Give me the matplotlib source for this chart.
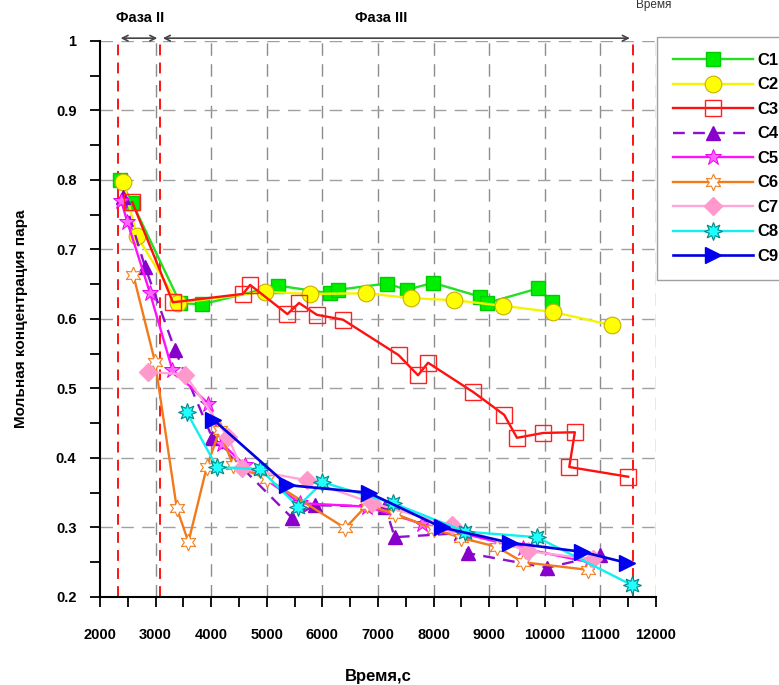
import matplotlib
matplotlib.use('Agg')
import matplotlib.pyplot as plt
from matplotlib.ticker import MultipleLocator, FormatStrFormatter

plt.rcParams['font.family'] = ['Liberation Sans', 'DejaVu Sans']

#Series (time in s, molar vapour concentration)
c1_t = [2360, 2580, 3440, 3835, 5200, 6130, 6280, 7160, 7520, 7990, 8840, 8960, 9880, 10130]
c1_y = [0.800, 0.767, 0.623, 0.621, 0.648, 0.637, 0.642, 0.651, 0.642, 0.652, 0.632, 0.623, 0.644, 0.624]

c2_t = [2420, 2660, 3400, 4970, 5780, 6790, 7590, 8370, 9250, 10150, 11210]
c2_y = [0.797, 0.720, 0.623, 0.639, 0.636, 0.637, 0.630, 0.627, 0.619, 0.610, 0.591]

c3_t = [2580, 3310, 4570, 4700, 5370, 5580, 5900, 6370, 7370, 7720, 7900, 8710, 9270, 9500, 9970, 10540, 10440, 11500]
c3_y = [0.768, 0.624, 0.636, 0.649, 0.607, 0.623, 0.606, 0.599, 0.548, 0.519, 0.537, 0.495, 0.462, 0.429, 0.436, 0.437, 0.387, 0.373]

c4_t = [2420, 2810, 3350, 4020, 5450, 5870, 7130, 7300, 8500, 8620, 10040, 11000]
c4_y = [0.776, 0.675, 0.555, 0.429, 0.314, 0.332, 0.330, 0.286, 0.292, 0.263, 0.242, 0.260]

c5_t = [2380, 2490, 2900, 3300, 3950, 4200, 4600, 5600, 6800, 7800, 8600, 9600, 10800]
c5_y = [0.770, 0.740, 0.637, 0.527, 0.478, 0.420, 0.390, 0.335, 0.330, 0.305, 0.290, 0.270, 0.250]

c6_t = [2600, 2990, 3380, 3590, 3920, 4150, 4390, 5000, 6410, 6800, 7300, 8000, 8500, 9140, 9610, 10780]
c6_y = [0.663, 0.538, 0.328, 0.279, 0.387, 0.440, 0.390, 0.370, 0.299, 0.332, 0.320, 0.298, 0.285, 0.272, 0.250, 0.239]

c7_t = [2870, 3530, 4300, 4550, 5720, 6900, 8330, 9700, 10870]
c7_y = [0.524, 0.520, 0.430, 0.385, 0.368, 0.335, 0.303, 0.266, 0.254]

c8_t = [3560, 4100, 4880, 5560, 6000, 7270, 8570, 9860, 11570]
c8_y = [0.466, 0.387, 0.384, 0.330, 0.365, 0.335, 0.294, 0.286, 0.217]

c9_t = [4040, 5370, 6830, 8150, 9380, 10670, 11480]
c9_y = [0.455, 0.361, 0.350, 0.300, 0.278, 0.265, 0.249]

phase_lines = [2000, 2320, 3080, 11580]
x_ticks = [2000, 3000, 4000, 5000, 6000, 7000, 8000, 9000, 10000, 11000, 12000]

fig = plt.figure(figsize=(7.79, 6.85), dpi=100)
ax = fig.add_axes([0.1284, 0.1285, 0.7137, 0.8117])

#grid first so series sit on top
for xv in x_ticks[1:]:
    ax.axvline(xv, color='#8c8c8c', lw=1.0, dashes=(9, 6), zorder=0)
for yv in [0.3, 0.4, 0.5, 0.6, 0.7, 0.8, 0.9, 1.0]:
    ax.axhline(yv, color='#a0a0a0', lw=1.0, dashes=(9, 6), zorder=0)
for xv in phase_lines:
    ax.axvline(xv, color='#ff0000', lw=1.3, dashes=(6, 4), zorder=1)

ax.plot(c1_t, c1_y, color='#22e022', lw=1.7, marker='s', ms=10,
        mfc='#00ee00', mec='#00cc00', label='C1', zorder=3)
ax.plot(c2_t, c2_y, color='#f4f400', lw=1.7, marker='o', ms=12,
        mfc='#ffff00', mec='#c8b000', mew=0.8, label='C2', zorder=3)
ax.plot(c3_t, c3_y, color='#ff1010', lw=1.7, marker='s', ms=12,
        mfc='none', mec='#ff2020', mew=1.0, label='C3', zorder=4)
ax.plot(c4_t, c4_y, color='#9010d0', lw=1.7, dashes=(5, 3.5), marker='^', ms=10,
        mfc='#8800cc', mec='#8800cc', label='C4', zorder=3)
ax.plot(c5_t, c5_y, color='#ff10ff', lw=1.7, marker='*', ms=12,
        mfc='#ff66ff', mec='#ee00ee', mew=0.7, label='C5', zorder=3)
ax.plot(c6_t, c6_y, color='#f27a1a', lw=1.7, marker=(6, 1, 0), ms=12,
        mfc='white', mec='#f08020', mew=0.8, label='C6', zorder=3)
ax.plot(c7_t, c7_y, color='#ffa6d6', lw=1.7, marker='D', ms=9,
        mfc='#ff99cc', mec='#ff99cc', label='C7', zorder=3)
ax.plot(c8_t, c8_y, color='#10f0f0', lw=1.7, marker=(8, 1, 0), ms=13,
        mfc='#20ffff', mec='#008888', mew=0.8, label='C8', zorder=3)
ax.plot(c9_t, c9_y, color='#0000e0', lw=1.9, marker='>', ms=11,
        mfc='#0000ee', mec='#0000ee', label='C9', zorder=3)

ax.set_xlim(2000, 12000)
ax.set_ylim(0.2, 1.0)
ax.set_xticks(x_ticks)
ax.xaxis.set_minor_locator(MultipleLocator(500))
ax.yaxis.set_major_locator(MultipleLocator(0.1))
ax.yaxis.set_minor_locator(MultipleLocator(0.05))
ax.yaxis.set_major_formatter(FormatStrFormatter('%g'))
ax.tick_params(which='both', direction='out', length=7, width=1.3, color='black')
ax.tick_params(axis='x', labelsize=10.5, pad=15)
ax.tick_params(axis='y', labelsize=10.5, pad=10)
for lab in ax.get_xticklabels() + ax.get_yticklabels():
    lab.set_fontweight('bold')

ax.spines['top'].set_visible(False)
ax.spines['right'].set_visible(False)
ax.spines['left'].set_linewidth(1.5)
ax.spines['bottom'].set_linewidth(1.5)

ax.set_xlabel('Время,с', fontsize=12, fontweight='bold', labelpad=20)
ax.set_ylabel('Мольная концентрация пара', fontsize=11, fontweight='bold', labelpad=20)

#phase arrows above the plot
arrow_y = 1.004
ax.annotate('', xy=(2320, arrow_y), xytext=(3080, arrow_y), xycoords='data',
            arrowprops=dict(arrowstyle='<->', color='#444444', lw=1.2), annotation_clip=False)
ax.annotate('', xy=(3080, arrow_y), xytext=(11580, arrow_y), xycoords='data',
            arrowprops=dict(arrowstyle='<->', color='#444444', lw=1.2), annotation_clip=False)
ax.text(2720, 1.033, 'Фаза II', ha='center', va='center', fontsize=10.5, fontweight='bold', clip_on=False)
ax.text(7050, 1.033, 'Фаза III', ha='center', va='center', fontsize=10.5, fontweight='bold', clip_on=False)

fig.text(654 / 779, 1 - 5 / 685, 'Время', ha='center', va='center', fontsize=8.5, color='#333333')

#legend runs past the right edge, as in the source figure
leg = ax.legend(loc='upper left', bbox_to_anchor=(657 / 779, 1 - 37 / 685),
                bbox_transform=fig.transFigure, borderaxespad=0, fancybox=False,
                edgecolor='#888888', handlelength=4.8, labelspacing=0.57,
                prop={'weight': 'bold', 'size': 12}, borderpad=0.95, handletextpad=0.3)
leg.get_frame().set_linewidth(1.0)

fig.savefig('out.png', dpi=100)
